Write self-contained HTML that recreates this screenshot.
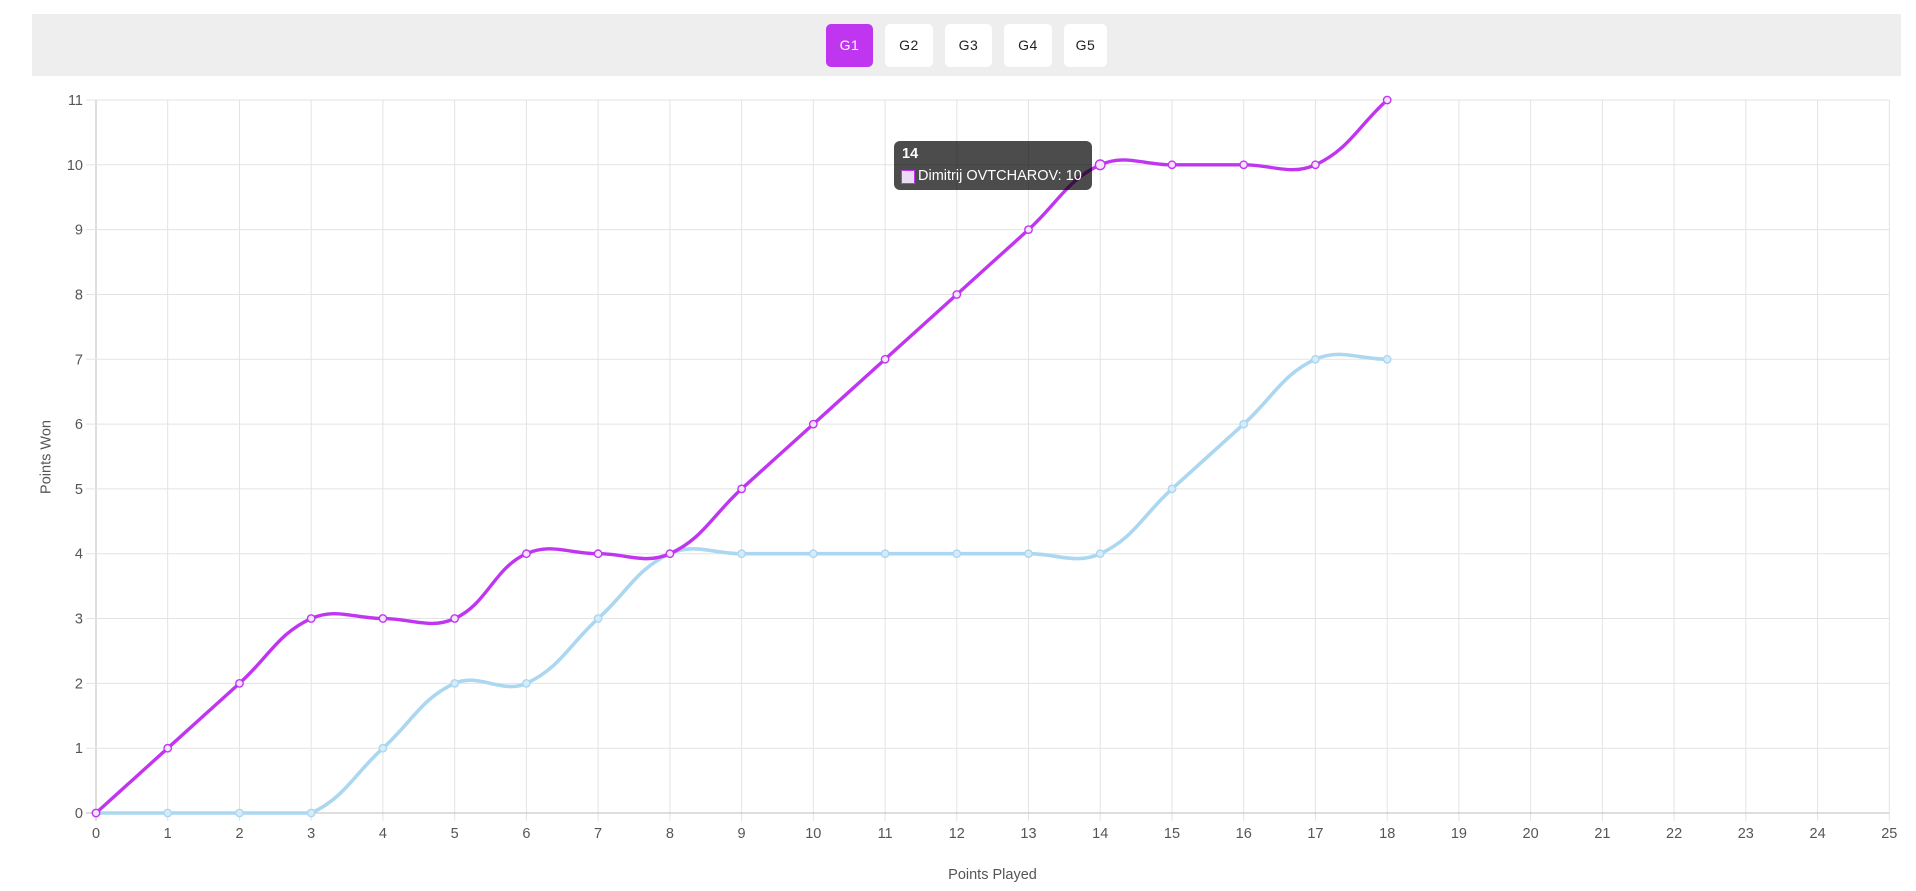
<!DOCTYPE html>
<html>
<head>
<meta charset="utf-8">
<style>
  html,body{margin:0;padding:0;background:#fff;width:1916px;height:891px;overflow:hidden;}
  body{position:relative;font-family:"Liberation Sans",Arial,sans-serif;}
  .bar{position:absolute;left:32px;top:14px;width:1869px;height:62px;background:#eeeeee;}
  .btn{position:absolute;top:24px;height:43px;background:#fff;border-radius:5px;color:#222;
       font-size:14px;line-height:43px;text-align:center;letter-spacing:0.5px;}
  .btn.on{background:#c036f0;color:#fff;}
  .tip{position:absolute;left:894px;top:141px;width:198px;height:49px;background:rgba(0,0,0,0.7);
       border-radius:6px;color:#fff;font-size:14.5px;}
  .tip .t{position:absolute;left:8px;top:5px;font-weight:bold;}
  .tip .sw{position:absolute;left:7px;top:29px;width:12px;height:12px;background:#ecdcf3;border:1px solid #c036f0;}
  .tip .l{position:absolute;left:24px;top:27px;white-space:nowrap;}
  svg{position:absolute;left:0;top:0;}
</style>
</head>
<body>
<div class="bar"></div>
<div class="btn on" style="left:826px;width:47px;">G1</div>
<div class="btn" style="left:885px;width:48px;">G2</div>
<div class="btn" style="left:945px;width:47px;">G3</div>
<div class="btn" style="left:1004px;width:48px;">G4</div>
<div class="btn" style="left:1064px;width:43px;">G5</div>

<svg id="c" width="1916" height="891" xmlns="http://www.w3.org/2000/svg"></svg>

<div class="tip"><div class="t">14</div><div class="sw"></div><div class="l">Dimitrij OVTCHAROV: 10</div></div>

<script>
(function(){
  var svg=document.getElementById('c');
  var L=96,R=1889.3,T=100,B=813;
  function X(v){return L+(R-L)*v/25;}
  function Y(v){return B-(B-T)*v/11;}
  var s='';
  for(var i=0;i<=25;i++){
    var x=X(i).toFixed(1);
    s+='<line x1="'+x+'" y1="'+T+'" x2="'+x+'" y2="'+(B+8)+'" stroke="'+(i==0?'#bdbdbd':'#e3e3e3')+'" stroke-width="1"/>';
    s+='<text x="'+x+'" y="838" text-anchor="middle" font-size="14.5" fill="#555" font-family="Liberation Sans, Arial, sans-serif">'+i+'</text>';
  }
  for(var j=0;j<=11;j++){
    var y=Y(j).toFixed(1);
    s+='<line x1="86" y1="'+y+'" x2="'+R+'" y2="'+y+'" stroke="'+(j==0?'#bdbdbd':'#e3e3e3')+'" stroke-width="1"/>';
    s+='<text x="83" y="'+(Y(j)+5).toFixed(1)+'" text-anchor="end" font-size="14.5" fill="#555" font-family="Liberation Sans, Arial, sans-serif">'+j+'</text>';
  }
  s+='<text x="992.5" y="879" text-anchor="middle" font-size="14.5" fill="#555" font-family="Liberation Sans, Arial, sans-serif">Points Played</text>';
  s+='<text transform="translate(50.5,457) rotate(-90)" text-anchor="middle" font-size="14.5" fill="#555" font-family="Liberation Sans, Arial, sans-serif">Points Won</text>';

  function path(data){
    var p=data.map(function(v,i){return {x:X(i),y:Y(v)};});
    var t=0.4;
    for(var i=0;i<p.length;i++){
      var prev=p[i-1]||p[i],cur=p[i],next=p[i+1]||p[i];
      var d01=Math.hypot(cur.x-prev.x,cur.y-prev.y),d12=Math.hypot(next.x-cur.x,next.y-cur.y);
      var s01=d01/(d01+d12),s12=d12/(d01+d12);
      if(isNaN(s01))s01=0;if(isNaN(s12))s12=0;
      var fa=t*s01,fb=t*s12;
      cur.px=cur.x-fa*(next.x-prev.x);cur.py=cur.y-fa*(next.y-prev.y);
      cur.nx=cur.x+fb*(next.x-prev.x);cur.ny=cur.y+fb*(next.y-prev.y);
      cur.py=Math.min(B,Math.max(T,cur.py));cur.ny=Math.min(B,Math.max(T,cur.ny));
    }
    var d='M'+p[0].x.toFixed(2)+' '+p[0].y.toFixed(2);
    for(var k=1;k<p.length;k++){
      d+=' C'+p[k-1].nx.toFixed(2)+' '+p[k-1].ny.toFixed(2)+' '+p[k].px.toFixed(2)+' '+p[k].py.toFixed(2)+' '+p[k].x.toFixed(2)+' '+p[k].y.toFixed(2);
    }
    return {d:d,p:p};
  }
  var blue=[0,0,0,0,1,2,2,3,4,4,4,4,4,4,4,5,6,7,7];
  var purple=[0,1,2,3,3,3,4,4,4,5,6,7,8,9,10,10,10,10,11];
  var b=path(blue),pu=path(purple);
  s+='<path d="'+b.d+'" fill="none" stroke="#acd7f0" stroke-width="3.6" stroke-linejoin="round"/>';
  b.p.forEach(function(q){s+='<circle cx="'+q.x.toFixed(1)+'" cy="'+q.y.toFixed(1)+'" r="3.7" fill="#d4ebf8" stroke="#acd7f0" stroke-width="1.4"/>';});
  s+='<path d="'+pu.d+'" fill="none" stroke="#c036f0" stroke-width="3.4" stroke-linejoin="round"/>';
  pu.p.forEach(function(q,i){s+='<circle cx="'+q.x.toFixed(1)+'" cy="'+q.y.toFixed(1)+'" r="'+(i==14?4.8:3.7)+'" fill="#f4e4fb" stroke="#c036f0" stroke-width="1.4"/>';});
  svg.innerHTML=s;
})();
</script>
</body>
</html>
